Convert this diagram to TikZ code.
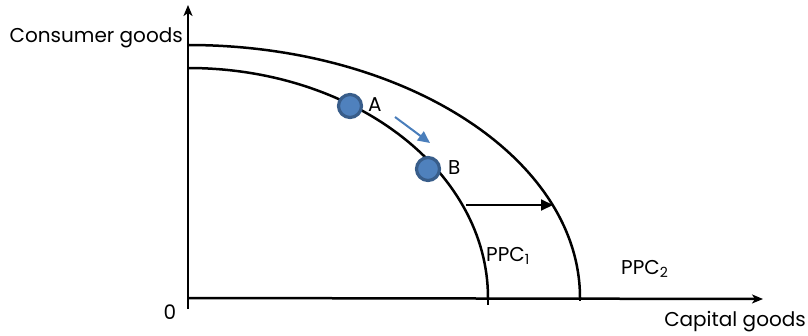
\documentclass[tikz,border=0pt]{standalone}
\usepackage{fontspec}
\setmainfont{Poppins}
\usetikzlibrary{arrows.meta}
\definecolor{dotfill}{HTML}{4F81BD}
\definecolor{dotline}{HTML}{385D8A}
\definecolor{arrblue}{HTML}{4A7EBB}
\begin{document}
\begin{tikzpicture}[x=1pt,y=-1pt,
  axis/.style={line width=2.5pt,-{Stealth[length=11pt,width=9pt,inset=3pt]}},
  curve/.style={line width=2.5pt},
  dot/.style={circle,fill=dotfill,draw=dotline,line width=3.2pt,minimum size=23pt,inner sep=0pt},
  lab/.style={font=\fontsize{20}{22}\selectfont,inner sep=0pt},
  shiftarr/.style={line width=2pt,-{Triangle[length=12pt,width=11pt]}},
  movearr/.style={line width=2pt,draw=arrblue,-{Triangle[length=12pt,width=11pt]}}]
\useasboundingbox (0,0) rectangle (808,336);
\coordinate (o) at (188,298);
\coordinate (ytop) at (188,5);
\coordinate (ybot) at (188,309);
\coordinate (xtip) at (763,299);
\draw[axis] (ybot) -- (ytop);
\draw[axis] (o) -- (xtip);
% PPC curves: quarter ellipses centred at origin
\draw[curve] (188,68) arc[start angle=90,end angle=0,x radius=300pt,y radius=230pt] coordinate (p1end);
\draw[curve] (188,45) arc[start angle=90,end angle=0,x radius=392pt,y radius=253pt] coordinate (p2end);
\draw[curve] (p1end) -- ++(0,7);
\draw[curve] (p2end) -- ++(0,3);
\node[dot] (A) at (350,106) {};
\node[dot] (B) at (428,169) {};
\node[lab,anchor=west] (Alab) at (368,105) {A};
\node[lab,anchor=west] (Blab) at (448,168) {B};
\coordinate (m1) at (395,117);
\coordinate (m2) at (430,143);
\draw[movearr] (m1) -- (m2);
\coordinate (s1) at (466,205);
\coordinate (s2) at (553,205);
\draw[shiftarr] (s1) -- (s2);
\node[lab,anchor=east] (cg) at (183,38) {Consumer goods};
\node[lab,anchor=east] (cap) at (806,322) {Capital goods};
\node[lab] (zero) at (170,312) {0};
\node[lab,anchor=west] (ppc1) at (486,256) {PPC\textsubscript{1}};
\node[lab,anchor=west] (ppc2) at (621,269) {PPC\textsubscript{2}};
\end{tikzpicture}
\end{document}
